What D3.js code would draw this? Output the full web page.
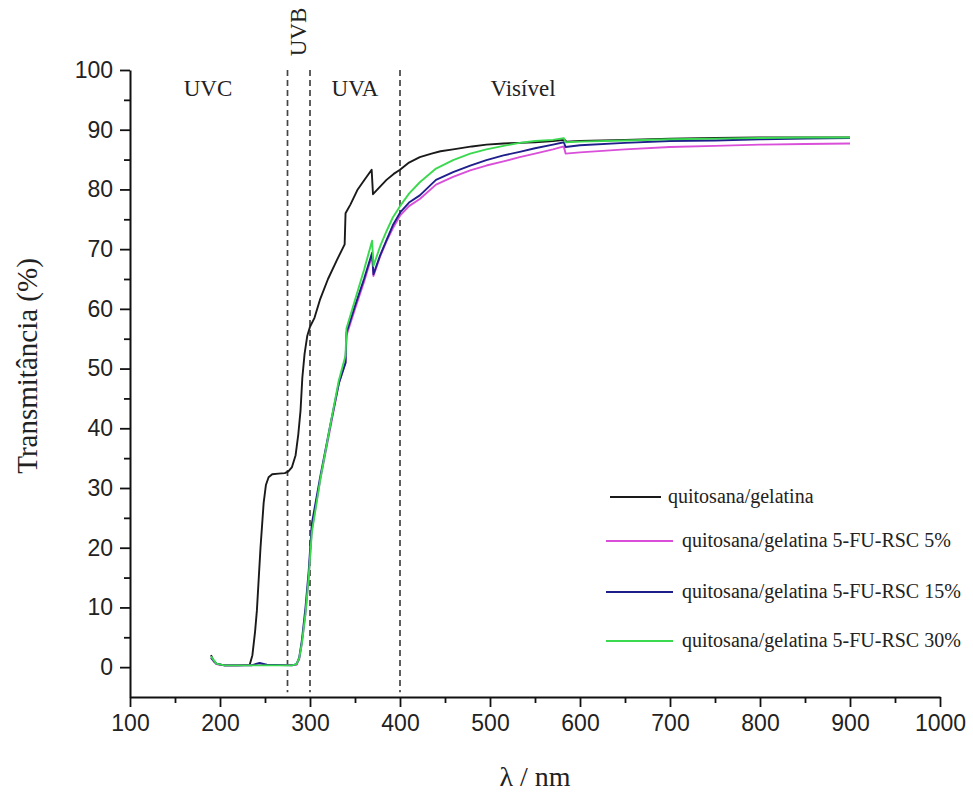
<!DOCTYPE html>
<html>
<head>
<meta charset="utf-8">
<script src="https://cdn.jsdelivr.net/npm/d3@7"></script>
<style>
	body { margin:0; background:#fff; }
	.tick text { font-family:"Liberation Sans", Arial, sans-serif; }
</style>
</head>
<body>
<div id="viz"></div>
<script>
// wavelengths (nm) and transmittance (%)
var wlBase = [190,193,197,205,220,233,236,239,241,245,248.5,251,254,258,265,272,276,280,284,287,289.5,291.5,294,297,300,305,311,320,330,338.5,339.5,345,353,360,368.5,370,375,385,393,400,410,422,435,445,459,480,496,515,533,550,570,583,585,600,650,700,750,800,850,900];
var tBase = [2.0,1.0,0.5,0.3,0.3,0.4,2,6,9.5,20,27.5,30.5,31.8,32.3,32.4,32.5,32.8,33.5,35.5,39,43,48.5,52.5,55.5,57,58.5,61.5,65,68.2,70.8,76,77.5,80,81.5,83.3,79.2,80,81.6,82.6,83.3,84.5,85.4,86,86.4,86.7,87.2,87.5,87.7,87.8,87.9,88.1,88.3,88.0,88.1,88.3,88.5,88.6,88.7,88.7,88.7];

var wl5 = [190,196,205,285,288,291,295,298.5,302,311.5,322.5,332,339.5,340.5,350,360,369,370.5,378,385,392,400,410,422,440,459,478,496,515,533,550,570,582,584,600,650,700,750,800,850,900];
var t5 = [1.5,0.5,0.3,0.4,1.3,4,9,15,23,31.5,40,47.5,51,55.5,60,64.5,69,65.5,68.8,71.3,73.5,75.6,77.2,78.4,80.8,82.1,83.2,84,84.7,85.4,86,86.7,87.2,86,86.2,86.7,87.1,87.3,87.5,87.6,87.7];

var wl15 = [190,196,205,235,244,252,280,285,288,291,295,298.5,302,311.5,322.5,332,339.5,340.5,350,360,369,370.5,378,385,392,400,410,422,440,459,478,496,515,533,550,570,582,584,600,650,700,750,800,850,900];
var t15 = [1.6,0.6,0.3,0.3,0.7,0.4,0.3,0.5,1.6,4.5,10,16,24,32,40.5,47.5,51,56,60.5,65,69.4,65.8,69,71.5,74,76.1,77.8,79,81.6,82.9,84,84.9,85.7,86.3,86.9,87.5,87.9,87.1,87.4,87.8,88.1,88.2,88.4,88.5,88.6];

var wl30 = [190,196,205,240,280,285,288,291,295,298.5,302,311.5,322.5,332,339.5,340.5,350,360,369,370.5,378,385,392,400,410,422,440,459,478,496,515,533,550,570,582,584,600,650,700,750,800,850,900];
var t30 = [1.8,0.6,0.3,0.3,0.3,0.5,1.5,4,9,15,22.5,31.5,40.5,48,52.2,56.7,61.5,66.5,71.4,67.2,70.5,73,75.3,77.2,79.3,81.2,83.5,84.9,86,86.7,87.3,87.8,88.1,88.3,88.6,87.9,88.0,88.2,88.4,88.5,88.6,88.7,88.7];

var seriesNames = ["quitosana/gelatina","quitosana/gelatina 5-FU-RSC 5%","quitosana/gelatina 5-FU-RSC 15%","quitosana/gelatina 5-FU-RSC 30%"];
var seriesColors = ["#1a1a1a","#d94fd9","#1f1f8c","#3bd94f"];

var xTicks = d3.range(100,1001,100);
var yTicks = d3.range(0,101,10);
var bandEdges = [275,300,400];
var bandLabels = ["UVC","UVA","Visível"];
var bandLabelPos = [208,355,523];

var svg = d3.select("#viz")
	.append("svg")
	.attr("width",973)
	.attr("height",800)
	.style("background","#fff");

var x = d3.scaleLinear().domain([100,1000]).range([130,940]);
var y = d3.scaleLinear().domain([-5,100]).range([697,70]);

// axes
var xAxis = svg.append("g")
	.attr("transform","translate(0,"+y(-5)+")")
	.call(d3.axisBottom(x).tickValues(xTicks).tickFormat(d3.format("d")).tickSize(10).tickSizeOuter(0).tickPadding(8));
svg.append("g")
	.attr("transform","translate(0,"+y(-5)+")")
	.call(d3.axisBottom(x).tickValues(d3.range(150,1000,100)).tickSize(6).tickFormat("").tickSizeOuter(0))
	.select(".domain").remove();

var yAxis = svg.append("g")
	.attr("transform","translate("+x(100)+",0)")
	.call(d3.axisLeft(y).tickValues(yTicks).tickSize(10).tickSizeOuter(0).tickPadding(7));
svg.append("g")
	.attr("transform","translate("+x(100)+",0)")
	.call(d3.axisLeft(y).tickValues(d3.range(5,100,10)).tickSize(6).tickFormat("").tickSizeOuter(0))
	.select(".domain").remove();

svg.selectAll(".domain").attr("stroke","#111").attr("stroke-width",2);
svg.selectAll(".tick line").attr("stroke","#111").attr("stroke-width",1.8);
xAxis.selectAll("text").attr("font-size",23).attr("fill","#222");
yAxis.selectAll("text").attr("font-size",23).attr("fill","#222");

// region separators
svg.selectAll("line.band")
	.data(bandEdges)
	.enter()
	.append("line")
	.attr("class","band")
	.attr("x1",function(d){return x(d)})
	.attr("x2",function(d){return x(d)})
	.attr("y1",y(100))
	.attr("y2",y(-4.2))
	.attr("stroke","#444")
	.attr("stroke-width",1.7)
	.attr("stroke-dasharray","6,4");

svg.selectAll("text.band")
	.data(bandLabels)
	.enter()
	.append("text")
	.attr("class","band")
	.attr("x",function(d,i){return bandLabelPos[i]})
	.attr("y",96)
	.attr("text-anchor","middle")
	.attr("font-family","'Liberation Serif', 'Times New Roman', serif")
	.attr("font-size",23)
	.attr("fill","#222")
	.text(function(d){return d});

svg.append("text")
	.attr("transform","translate(306,32) rotate(-90)")
	.attr("text-anchor","middle")
	.attr("font-family","'Liberation Serif', 'Times New Roman', serif")
	.attr("font-size",23)
	.attr("fill","#222")
	.text("UVB");

// curves
var line = d3.line()
	.x(function(d){return x(d[0])})
	.y(function(d){return y(d[1])});

var allSeries = [
	d3.zip(wlBase,tBase),
	d3.zip(wl5,t5),
	d3.zip(wl15,t15),
	d3.zip(wl30,t30)
];

svg.selectAll("path.curve")
	.data(allSeries)
	.enter()
	.append("path")
	.attr("class","curve")
	.attr("d",function(d){return line(d)})
	.attr("fill","none")
	.attr("stroke",function(d,i){return seriesColors[i]})
	.attr("stroke-width",1.9)
	.attr("stroke-linejoin","round");

// legend
var legendY = [497,541,592,641];
var lg = svg.selectAll("g.legend")
	.data(seriesNames)
	.enter()
	.append("g")
	.attr("class","legend")
	.attr("transform",function(d,i){return "translate(0,"+legendY[i]+")"});
lg.append("line")
	.attr("x1",function(d,i){return i==0 ? 610 : 606})
	.attr("x2",function(d,i){return i==0 ? 661 : 673})
	.attr("stroke",function(d,i){return seriesColors[i]})
	.attr("stroke-width",2.2);
lg.append("text")
	.attr("x",function(d,i){return i==0 ? 668 : 682})
	.attr("y",6)
	.attr("font-family","'Liberation Serif', 'Times New Roman', serif")
	.attr("font-size",20)
	.attr("fill","#222")
	.text(function(d){return d});

// axis titles
svg.append("text")
	.attr("transform","translate(37,366) rotate(-90)")
	.attr("text-anchor","middle")
	.attr("font-family","'Liberation Serif', 'Times New Roman', serif")
	.attr("font-size",29)
	.attr("fill","#222")
	.text("Transmitância (%)");

svg.append("text")
	.attr("x",535)
	.attr("y",786)
	.attr("text-anchor","middle")
	.attr("font-family","'Liberation Serif', 'Times New Roman', serif")
	.attr("font-size",28)
	.attr("fill","#222")
	.text("λ / nm");
</script>
</body>
</html>
